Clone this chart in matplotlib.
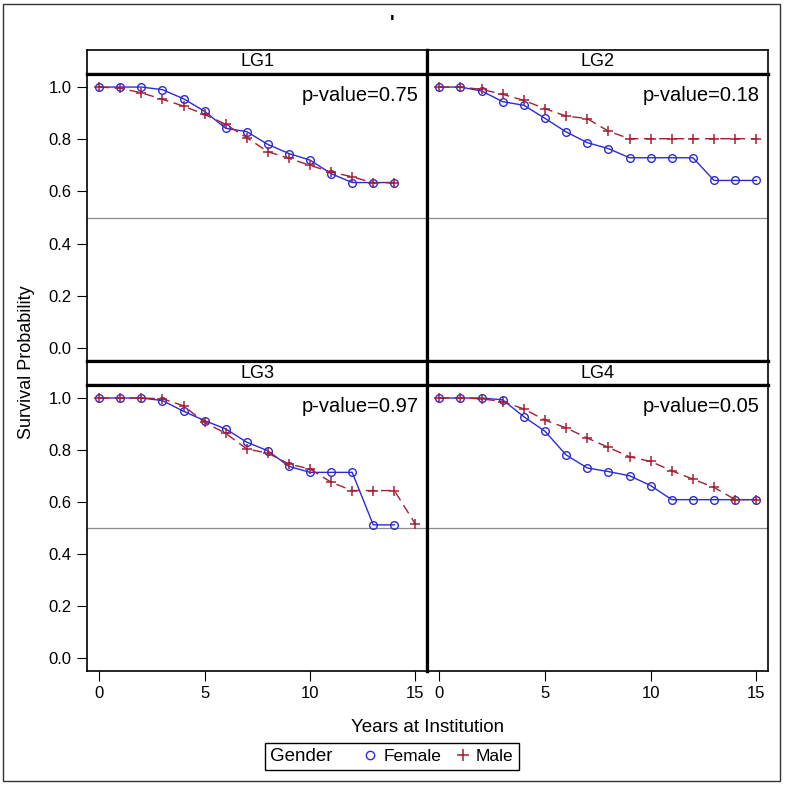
#!/usr/bin/env python3
# -*- coding: utf-8 -*-

import matplotlib
matplotlib.use('Agg')
import matplotlib.pyplot as plt
from matplotlib.lines import Line2D
from matplotlib.patches import Rectangle

plt.rcParams['font.family'] = ['Liberation Sans', 'DejaVu Sans']

# survival estimates, one value per year (0, 1, 2, ...)
groups = ['LG1', 'LG2', 'LG3', 'LG4']
p_values = ['0.75', '0.18', '0.97', '0.05']

female_lg1 = [1.0, 1.0, 1.0, 0.99, 0.955, 0.907, 0.842, 0.829, 0.78, 0.745, 0.72, 0.668, 0.634, 0.634, 0.634]
male_lg1 = [1.0, 0.995, 0.978, 0.953, 0.927, 0.895, 0.857, 0.806, 0.752, 0.727, 0.70, 0.674, 0.656, 0.633, 0.633]

female_lg2 = [1.0, 1.0, 0.985, 0.944, 0.93, 0.88, 0.828, 0.787, 0.764, 0.729, 0.729, 0.729, 0.729, 0.642, 0.642, 0.642]
male_lg2 = [1.0, 1.0, 0.991, 0.972, 0.949, 0.917, 0.889, 0.879, 0.831, 0.802, 0.802, 0.802, 0.802, 0.802, 0.802, 0.802]

female_lg3 = [1.0, 1.0, 1.0, 0.99, 0.949, 0.913, 0.881, 0.83, 0.797, 0.737, 0.714, 0.714, 0.714, 0.512, 0.512]
male_lg3 = [1.0, 1.0, 1.0, 0.997, 0.97, 0.906, 0.864, 0.804, 0.788, 0.746, 0.727, 0.676, 0.644, 0.644, 0.644, 0.515]

female_lg4 = [1.0, 1.0, 1.0, 0.993, 0.928, 0.872, 0.781, 0.731, 0.717, 0.701, 0.663, 0.609, 0.609, 0.609, 0.609, 0.609]
male_lg4 = [1.0, 1.0, 0.997, 0.986, 0.958, 0.915, 0.885, 0.846, 0.81, 0.774, 0.756, 0.72, 0.688, 0.656, 0.609, 0.609]

female_all = [female_lg1, female_lg2, female_lg3, female_lg4]
male_all = [male_lg1, male_lg2, male_lg3, male_lg4]

FEMALE_C = '#2B2BD6'
MALE_C = '#A51F35'
W = 785.0
THIN = 1.2
THICK = 2.3


def px_box(x0, y0, x1, y1):
	# pixel box (top-left origin) -> figure fraction rect
	return [x0 / W, 1 - y1 / W, (x1 - x0) / W, (y1 - y0) / W]


def draw_panel(fig, col, row, idx):
	xs = [(87, 427), (427, 768)][col]
	head_y = [(50, 74), (361, 385)][row]
	plot_y = [(74, 361), (385, 671)][row]

	hd = fig.add_axes(px_box(xs[0], head_y[0], xs[1], head_y[1]))
	hd.set_xticks([])
	hd.set_yticks([])
	hd.text(0.5, 0.5, groups[idx], ha='center', va='center', fontsize=13, transform=hd.transAxes)

	ax = fig.add_axes(px_box(xs[0], plot_y[0], xs[1], plot_y[1]))
	fem = female_all[idx]
	mal = male_all[idx]
	ax.axhline(0.5, color='#8c8c8c', lw=0.9, zorder=1)
	ax.plot(range(len(fem)), fem, color=FEMALE_C, lw=1.0, marker='o', ms=5.5,
			mfc='none', mew=1.0, zorder=3)
	ax.plot(range(len(mal)), mal, color=MALE_C, lw=1.0, ls=(0, (7, 4)), marker='+',
			ms=7, mew=1.1, zorder=4)
	ax.text(0.975, 0.925, 'p-value=' + p_values[idx], ha='right', va='center',
			fontsize=14.5, transform=ax.transAxes)

	ax.set_xlim(-0.58, 15.55)
	ax.set_ylim(-0.05, 1.05)
	ax.set_xticks([0, 5, 10, 15])
	ax.set_yticks([0.0, 0.2, 0.4, 0.6, 0.8, 1.0])
	ax.set_yticklabels(['0.0', '0.2', '0.4', '0.6', '0.8', '1.0'])
	ax.tick_params(direction='out', length=7, width=0.8, labelsize=12, pad=4)
	if col == 1:
		ax.tick_params(axis='y', left=False, labelleft=False)
	if row == 0:
		ax.tick_params(axis='x', bottom=False, labelbottom=False)

	for a in (hd, ax):
		for s in a.spines.values():
			s.set_linewidth(THIN)
		# divider between the two columns
		a.spines['right' if col == 0 else 'left'].set_linewidth(THICK)
	hd.spines['bottom'].set_linewidth(THICK)
	ax.spines['top'].set_linewidth(THICK)
	if row == 0:
		ax.spines['bottom'].set_linewidth(THICK)
	else:
		hd.spines['top'].set_linewidth(THICK)
	return ax


def main():
	fig = plt.figure(figsize=(7.85, 7.85), dpi=100)

	idx = 0
	for row in range(2):
		for col in range(2):
			draw_panel(fig, col, row, idx)
			idx += 1

	fig.text(0.5, 1 - 24 / W, "'", ha='center', va='center', fontsize=14, fontweight='bold')
	fig.text(27 / W, 1 - 362 / W, 'Survival Probability', rotation=90, ha='center',
			 va='center', fontsize=13)
	fig.text(428 / W, 1 - 728 / W, 'Years at Institution', ha='center', va='center', fontsize=13.5)

	handles = [Line2D([], [], color=FEMALE_C, marker='o', mfc='none', ls='none', ms=6, mew=1.0),
			   Line2D([], [], color=MALE_C, marker='+', ls='none', ms=8, mew=1.1)]
	leg = fig.legend(handles, ['Female', 'Male'], title='Gender   ', ncol=2, loc='center',
					 bbox_to_anchor=(392 / W, 1 - 756.5 / W), frameon=True, fontsize=12.5,
					 title_fontsize=13.5, handlelength=0.7, handletextpad=0.4,
					 columnspacing=0.9, borderpad=0.3, borderaxespad=0, fancybox=False,
					 edgecolor='black', framealpha=1)
	leg.get_frame().set_linewidth(1.0)
	# put the legend title left of the entries, as in the original
	box = leg.get_children()[0]
	title_box, cols = box.get_children()
	box._children = [cols]
	cols._children = [title_box] + cols.get_children()

	fig.patches.append(Rectangle((3 / W, 4 / W), 777 / W, 777 / W, transform=fig.transFigure,
								 fill=False, edgecolor='#333333', lw=1.0))

	fig.savefig('out.png', dpi=100)


if __name__ == "__main__":
	main()
